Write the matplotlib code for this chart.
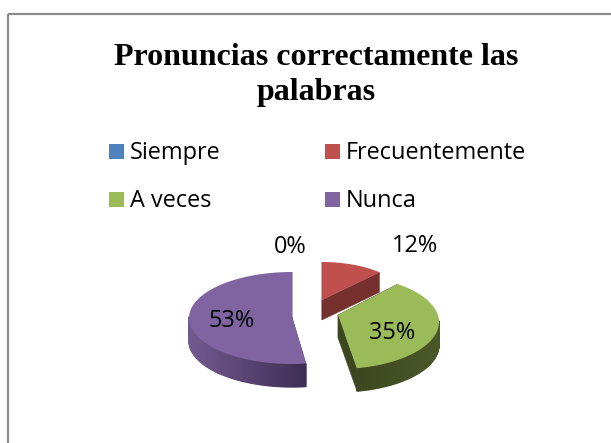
import numpy as np
import matplotlib
matplotlib.use('Agg')
import matplotlib.pyplot as plt
from matplotlib.patches import Polygon, Rectangle
from matplotlib.colors import to_rgb

TITLE = "Pronuncias correctamente las\npalabras"
categories = ["Siempre", "Frecuentemente", "A veces", "Nunca"]
values = [0, 12, 35, 53]
labels = ["0%", "12%", "35%", "53%"]
colors = ["#4f81bd", "#c0504d", "#9bbb59", "#8064a2"]
side_dark = ["#2a4466", "#76302e", "#3c4720", "#3e2f55"]
side_light = ["#2a4466", "#76302e", "#4a5829", "#72598f"]

# wedge apex, ellipse centre and radii in pixels, the 3d tilt is faked
apexes = {1: (322, 300), 2: (338, 315), 3: (292, 317)}
centers = {1: (322, 300), 2: (338, 322), 3: (292, 318)}
radii = {1: (84, 38), 2: (101, 47), 3: (103, 46)}
depths = {1: 20, 2: 23, 3: 23}
# perspective moves the visible start of each slice a little (degrees)
start_shift = {1: 0, 2: -7, 3: 3}
label_pos = [(290, 247), (415, 246), (392, 333), (232, 321)]

fig = plt.figure(figsize=(6.11, 4.43), dpi=100)
ax = fig.add_axes([0, 0, 1, 1])
ax.set_xlim(0, 611)
ax.set_ylim(443, 0)
ax.axis('off')

# chart frame runs off the right and bottom of the crop
ax.add_patch(Rectangle((8, 14), 640, 470, fill=False, edgecolor='#8c8c8c', lw=1.6))

ax.text(316, 75, TITLE, family='Liberation Serif', weight='bold', fontsize=23,
        ha='center', va='center', linespacing=1.26, color='black')

# legend
for i, name in enumerate(categories):
    lx = 109 if i % 2 == 0 else 325
    ly = 152 if i < 2 else 200
    ax.add_patch(Rectangle((lx, ly - 8), 15, 15, facecolor=colors[i], edgecolor='none'))
    ax.text(lx + 21, ly + 1, name, family='Open Sans', fontsize=16.9, ha='left', va='center', color='black')


def rim(idx, theta):
    cx, cy = centers[idx]
    rx, ry = radii[idx]
    return cx + rx * np.sin(theta), cy - ry * np.cos(theta)


cum = np.cumsum([0] + values)
for i in [3, 1, 2]:
    t0 = 2 * np.pi * cum[i] / 100 + np.radians(start_shift[i])
    t1 = 2 * np.pi * cum[i + 1] / 100
    ts = np.linspace(t0, t1, 120)
    xs, ys = rim(i, ts)
    cx, cy = apexes[i]
    d = depths[i]
    # cut faces
    for ex, ey in [(xs[0], ys[0]), (xs[-1], ys[-1])]:
        ax.add_patch(Polygon([(cx, cy), (ex, ey), (ex, ey + d), (cx, cy + d)],
                             facecolor=side_dark[i], edgecolor=side_dark[i], lw=0.3))
    # outer side, only the part turned towards the viewer, shaded in strips
    c_dark, c_light = np.array(to_rgb(side_dark[i])), np.array(to_rgb(side_light[i]))
    for a, b in zip(ts[:-1], ts[1:]):
        if np.cos((a + b) / 2) > 0.02:
            continue
        xa, ya = rim(i, a)
        xb, yb = rim(i, b)
        f = np.clip((xa - xs.min()) / (xs.max() - xs.min()), 0, 1)
        f = f if i == 2 else 1 - f
        col = c_dark + (c_light - c_dark) * f
        ax.add_patch(Polygon([(xa, ya), (xb, yb), (xb, yb + d), (xa, ya + d)],
                             facecolor=col, edgecolor=col, lw=0.9))
    ax.add_patch(Polygon(np.column_stack([np.r_[cx, xs], np.r_[cy, ys]]),
                         facecolor=colors[i], edgecolor='none', zorder=3))

for (x, y), txt in zip(label_pos, labels):
    ax.text(x, y, txt, family='Open Sans', fontsize=16.9, ha='center', va='center',
            color='black', zorder=5)

fig.savefig('out.png', dpi=100)
